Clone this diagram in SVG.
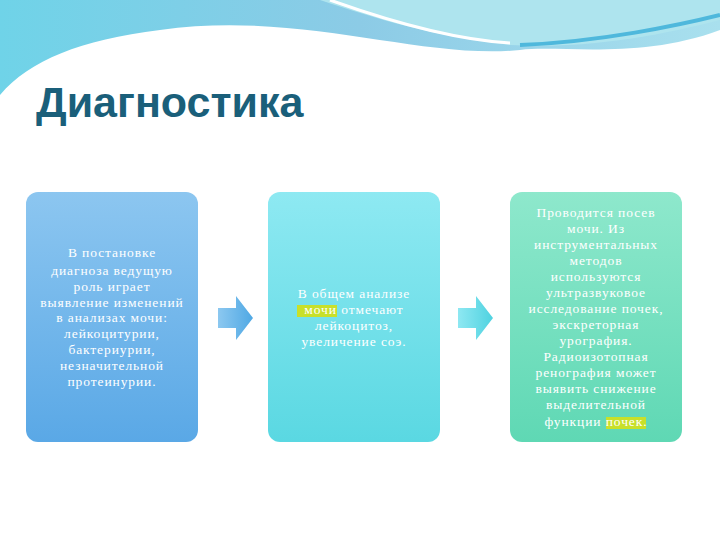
<svg xmlns="http://www.w3.org/2000/svg" width="720" height="540" viewBox="0 0 720 540">
<defs>
<linearGradient id="top" x1="0" y1="0" x2="1" y2="0"><stop offset="0" stop-color="#6fd3e8"/><stop offset="0.5" stop-color="#8ccbe6"/><stop offset="1" stop-color="#a9e0ee"/></linearGradient>
<linearGradient id="g1" x1="0" y1="0" x2="0" y2="1"><stop offset="0" stop-color="#8cc6f0"/><stop offset="1" stop-color="#5aa8e6"/></linearGradient>
<linearGradient id="g2" x1="0" y1="0" x2="0" y2="1"><stop offset="0" stop-color="#8ee9f2"/><stop offset="1" stop-color="#5ad8e2"/></linearGradient>
<linearGradient id="g3" x1="0" y1="0" x2="0" y2="1"><stop offset="0" stop-color="#8ee8cc"/><stop offset="1" stop-color="#5fd8b4"/></linearGradient>
<linearGradient id="ga" x1="0" y1="0" x2="1" y2="0"><stop offset="0" stop-color="#8cc8f0"/><stop offset="1" stop-color="#4fa8e4"/></linearGradient>
<linearGradient id="gb" x1="0" y1="0" x2="1" y2="0"><stop offset="0" stop-color="#8ee8f2"/><stop offset="1" stop-color="#4fd2e0"/></linearGradient>
</defs>
<style>
.t{font-family:"Liberation Serif","DejaVu Serif",serif;font-size:13.5px;letter-spacing:0.9px;fill:#ffffff;text-anchor:middle}
.hl{fill:#c8e02a}
</style>
<rect width="720" height="540" fill="#ffffff"/>
<path d="M0 0 H720 V30 C640 60 560 45 520 50 C420 60 300 10 160 30 C80 40 30 60 0 95 Z" fill="url(#top)"/>
<path d="M320 0 C380 20 430 35 510 45 C600 50 680 30 720 20 V0 Z" fill="#aee4ee"/>
<path d="M330 0 C400 25 460 40 510 43" fill="none" stroke="#ffffff" stroke-width="3"/>
<path d="M520 45 C600 42 680 25 720 15" fill="none" stroke="#4fb8dc" stroke-width="4"/>
<text x="36" y="117" font-family="Liberation Sans,Arial,sans-serif" font-weight="bold" font-size="43" fill="#1a5f7a">Диагностика</text>
<g id="connectors">
<polygon points="218,308 236,308 236,296 253,318 236,340 236,328 218,328" fill="url(#ga)"/>
<polygon points="458,308 476,308 476,296 493,318 476,340 476,328 458,328" fill="url(#gb)"/>
</g>
<g id="box1">
<rect x="26" y="192" width="172" height="250" rx="12" fill="url(#g1)"/>
<text class="t"><tspan x="112" y="257">В постановке</tspan><tspan x="112" y="275">диагноза ведущую</tspan><tspan x="112" y="291">роль играет</tspan><tspan x="112" y="307">выявление изменений</tspan><tspan x="112" y="322">в анализах мочи:</tspan><tspan x="112" y="338">лейкоцитурии,</tspan><tspan x="112" y="354">бактериурии,</tspan><tspan x="112" y="370">незначительной</tspan><tspan x="112" y="386">протеинурии.</tspan></text>
</g>
<g id="box2">
<rect x="268" y="192" width="172" height="250" rx="12" fill="url(#g2)"/>
<rect x="297" y="305" width="40" height="12" class="hl"/>
<text class="t"><tspan x="354" y="298">В общем анализе</tspan><tspan x="354" y="314">мочи отмечают</tspan><tspan x="354" y="330">лейкоцитоз,</tspan><tspan x="354" y="346">увеличение соэ.</tspan></text>
</g>
<g id="box3">
<rect x="510" y="192" width="172" height="250" rx="12" fill="url(#g3)"/>
<rect x="606" y="417" width="40" height="12" class="hl"/>
<text class="t"><tspan x="596" y="217">Проводится посев</tspan><tspan x="596" y="233">мочи. Из</tspan><tspan x="596" y="249">инструментальных</tspan><tspan x="596" y="265">методов</tspan><tspan x="596" y="281">используются</tspan><tspan x="596" y="297">ультразвуковое</tspan><tspan x="596" y="313">исследование почек,</tspan><tspan x="596" y="329">экскреторная</tspan><tspan x="596" y="345">урография.</tspan><tspan x="596" y="361">Радиоизотопная</tspan><tspan x="596" y="377">ренография может</tspan><tspan x="596" y="393">выявить снижение</tspan><tspan x="596" y="409">выделительной</tspan><tspan x="596" y="426">функции почек.</tspan></text>
</g>
</svg>
